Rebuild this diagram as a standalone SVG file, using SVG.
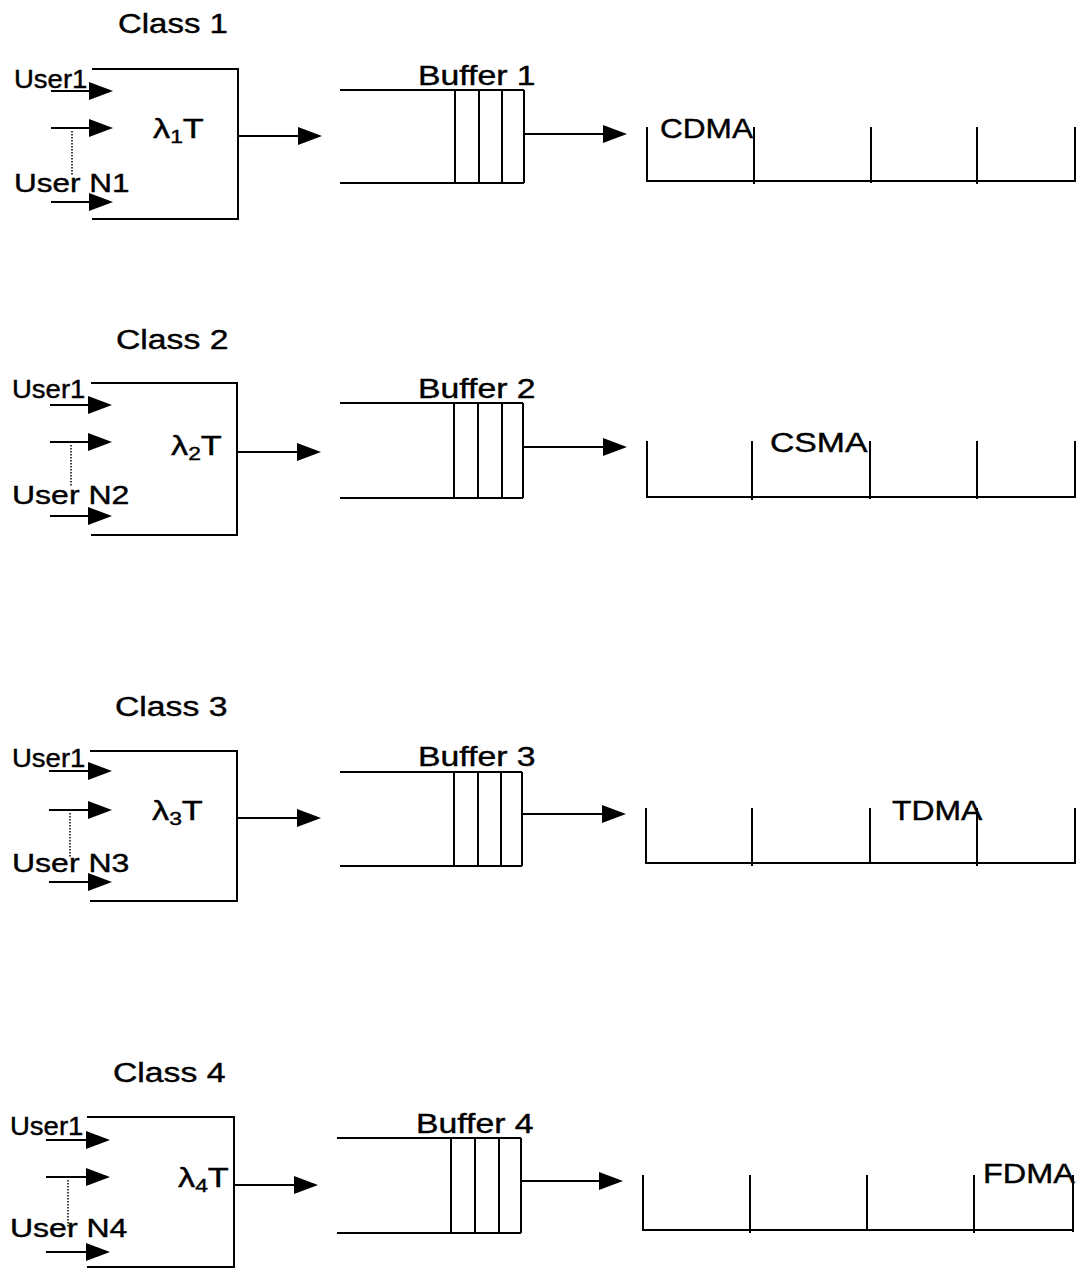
<svg xmlns="http://www.w3.org/2000/svg" width="1076" height="1271" viewBox="0 0 1076 1271">
<defs>
<style>
text{font-family:"Liberation Sans",Arial,sans-serif;fill:#000;stroke:#000;stroke-width:0.4}
.lbl{font-size:27px}
.buf{font-size:27px}
.ch{font-size:27px}
.usr{font-size:25px}
.lam{font-size:27px}
.sub{font-size:18px}
.ln{fill:none;stroke:#000;stroke-width:2}
.dot{fill:none;stroke:#000;stroke-width:1.5;stroke-dasharray:1.5 1.5}
.arr{fill:none;stroke:#000;stroke-width:2;marker-end:url(#ah)}
</style>
<marker id="ah" markerUnits="userSpaceOnUse" markerWidth="24" markerHeight="18" refX="0" refY="9" orient="auto" overflow="visible">
<path d="M0,0 L24,9 L0,18 Z" fill="#000"/>
</marker>
</defs>
<rect width="1076" height="1271" fill="#fff"/>

<!-- Row 1 -->
<g id="class1">
<text class="lbl" transform="translate(118,33) scale(1.22,1)">Class 1</text>
</g>
<g id="source1">
<path class="ln" d="M92,69 H238 V219 H92"/>
<text class="usr" transform="translate(14,88) scale(1.1,1)">User1</text>
<text class="usr" transform="translate(14,192) scale(1.26,1)">User N1</text>
<text class="lam" transform="translate(153,138) scale(1.27,1)">λ<tspan class="sub" dy="5">1</tspan><tspan dy="-5">T</tspan></text>
<path class="dot" d="M72,131 V175"/>
</g>
<g id="buffer1">
<path class="ln" d="M340,90 H524 M340,183 H524 M455,90 V183 M479,90 V183 M502,90 V183 M524,90 V183"/>
<text class="buf" transform="translate(418,85) scale(1.25,1)">Buffer 1</text>
</g>
<g id="channel1">
<path class="ln" d="M647,181 H1075 M647,127 V182 M754,127 V184 M871,127 V183 M977,127 V184 M1075,127 V182"/>
<text class="ch" transform="translate(660,138) scale(1.17,1)">CDMA</text>
</g>

<!-- Row 2 -->
<g id="class2">
<text class="lbl" transform="translate(116,349) scale(1.25,1)">Class 2</text>
</g>
<g id="source2">
<path class="ln" d="M91,383 H237 V535 H91"/>
<text class="usr" transform="translate(12,398) scale(1.1,1)">User1</text>
<text class="usr" transform="translate(12,504) scale(1.28,1)">User N2</text>
<text class="lam" transform="translate(171,455) scale(1.27,1)">λ<tspan class="sub" dy="5">2</tspan><tspan dy="-5">T</tspan></text>
<path class="dot" d="M71,445 V486"/>
</g>
<g id="buffer2">
<path class="ln" d="M340,403 H523 M340,498 H523 M454,403 V498 M478,403 V498 M502,403 V498 M523,403 V498"/>
<text class="buf" transform="translate(418,398) scale(1.25,1)">Buffer 2</text>
</g>
<g id="channel2">
<path class="ln" d="M647,497 H1075 M647,441 V498 M752,441 V500 M870,441 V499 M977,441 V499 M1075,441 V498"/>
<text class="ch" transform="translate(770,452) scale(1.25,1)">CSMA</text>
</g>

<!-- Row 3 -->
<g id="class3">
<text class="lbl" transform="translate(115,716) scale(1.25,1)">Class 3</text>
</g>
<g id="source3">
<path class="ln" d="M90,751 H237 V901 H90"/>
<text class="usr" transform="translate(12,767) scale(1.1,1)">User1</text>
<text class="usr" transform="translate(12,872) scale(1.28,1)">User N3</text>
<text class="lam" transform="translate(152,820) scale(1.27,1)">λ<tspan class="sub" dy="5">3</tspan><tspan dy="-5">T</tspan></text>
<path class="dot" d="M70,813 V857"/>
</g>
<g id="buffer3">
<path class="ln" d="M340,772 H522 M340,866 H522 M454,772 V866 M478,772 V866 M501,772 V866 M522,772 V866"/>
<text class="buf" transform="translate(418,766) scale(1.25,1)">Buffer 3</text>
</g>
<g id="channel3">
<path class="ln" d="M646,863 H1075 M646,808 V864 M752,808 V866 M870,808 V864 M977,808 V866 M1075,808 V864"/>
<text class="ch" transform="translate(892,820) scale(1.18,1)">TDMA</text>
</g>

<!-- Row 4 -->
<g id="class4">
<text class="lbl" transform="translate(113,1082) scale(1.25,1)">Class 4</text>
</g>
<g id="source4">
<path class="ln" d="M87,1117 H234 V1267 H87"/>
<text class="usr" transform="translate(10,1135) scale(1.1,1)">User1</text>
<text class="usr" transform="translate(10,1237) scale(1.28,1)">User N4</text>
<text class="lam" transform="translate(178,1187) scale(1.27,1)">λ<tspan class="sub" dy="5">4</tspan><tspan dy="-5">T</tspan></text>
<path class="dot" d="M68,1180 V1227"/>
</g>
<g id="buffer4">
<path class="ln" d="M337,1138 H521 M337,1233 H521 M451,1138 V1233 M475,1138 V1233 M499,1138 V1233 M521,1138 V1233"/>
<text class="buf" transform="translate(416,1133) scale(1.25,1)">Buffer 4</text>
</g>
<g id="channel4">
<path class="ln" d="M643,1230 H1073 M643,1175 V1231 M750,1175 V1233 M867,1175 V1231 M974,1175 V1233 M1073,1175 V1232"/>
<text class="ch" transform="translate(983,1183) scale(1.2,1)">FDMA</text>
</g>

<g id="connectors">
<path class="arr" d="M51,91 H89"/>
<path class="arr" d="M51,128 H89"/>
<path class="arr" d="M51,202 H89"/>
<path class="arr" d="M238,136 H298"/>
<path class="arr" d="M524,134 H603"/>

<path class="arr" d="M50,405 H88"/>
<path class="arr" d="M50,442 H88"/>
<path class="arr" d="M50,516 H88"/>
<path class="arr" d="M237,452 H297"/>
<path class="arr" d="M523,447 H603"/>

<path class="arr" d="M49,771 H88"/>
<path class="arr" d="M49,810 H88"/>
<path class="arr" d="M49,882 H88"/>
<path class="arr" d="M237,818 H297"/>
<path class="arr" d="M522,814 H602"/>

<path class="arr" d="M46,1140 H86"/>
<path class="arr" d="M46,1177 H86"/>
<path class="arr" d="M46,1252 H86"/>
<path class="arr" d="M234,1185 H294"/>
<path class="arr" d="M521,1181 H599"/>
</g>
</svg>
